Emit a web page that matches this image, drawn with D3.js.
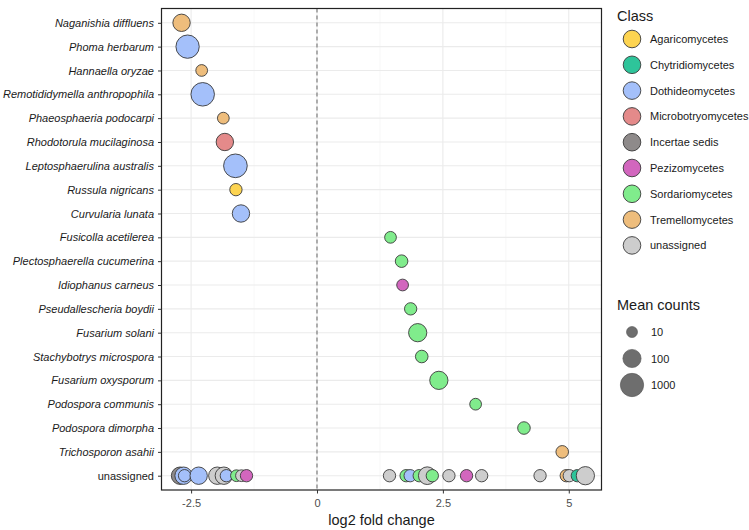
<!DOCTYPE html>
<html><head><meta charset="utf-8">
<script src="https://cdn.jsdelivr.net/npm/d3@7"></script>
<style>body{margin:0;background:#fff;font-family:Arial,"Liberation Sans",sans-serif}</style>
</head><body><svg id="c" width="749" height="530"></svg>
<script>
const rows = ["Naganishia diffluens","Phoma herbarum","Hannaella oryzae","Remotididymella anthropophila","Phaeosphaeria podocarpi","Rhodotorula mucilaginosa","Leptosphaerulina australis","Russula nigricans","Curvularia lunata","Fusicolla acetilerea","Plectosphaerella cucumerina","Idiophanus carneus","Pseudallescheria boydii","Fusarium solani","Stachybotrys microspora","Fusarium oxysporum","Podospora communis","Podospora dimorpha","Trichosporon asahii","unassigned"];
const classes = ["Agaricomycetes","Chytridiomycetes","Dothideomycetes","Microbotryomycetes","Incertae sedis","Pezizomycetes","Sordariomycetes","Tremellomycetes","unassigned"];
const classColors = ["#FDD451","#2EC49A","#A4C0FA","#E48A8A","#8E8A8A","#D266BE","#80EC8C","#EEBD7C","#CDCDCD"];
const xTicks = [-2.5, 0, 2.5, 5];
const sizeBreaks = [10, 100, 1000];

const pointRow = ["Naganishia diffluens","Phoma herbarum","Hannaella oryzae","Remotididymella anthropophila","Phaeosphaeria podocarpi","Rhodotorula mucilaginosa","Leptosphaerulina australis","Russula nigricans","Curvularia lunata","Fusicolla acetilerea","Plectosphaerella cucumerina","Idiophanus carneus","Pseudallescheria boydii","Fusarium solani","Stachybotrys microspora","Fusarium oxysporum","Podospora communis","Podospora dimorpha","Trichosporon asahii",
"unassigned","unassigned","unassigned","unassigned","unassigned","unassigned","unassigned","unassigned","unassigned","unassigned",
"unassigned","unassigned","unassigned","unassigned","unassigned","unassigned","unassigned","unassigned","unassigned","unassigned","unassigned","unassigned","unassigned","unassigned"];
const pointLfc = [-2.69,-2.57,-2.29,-2.27,-1.86,-1.83,-1.62,-1.61,-1.51,1.46,1.68,1.70,1.86,2.00,2.08,2.42,3.15,4.11,4.87,
-2.72,-2.65,-2.63,-2.35,-1.98,-1.85,-1.80,-1.60,-1.50,-1.40,
1.44,1.77,1.85,2.03,2.19,2.29,2.62,2.97,3.27,4.43,4.95,5.01,5.17,5.33];
const pointClass = ["Tremellomycetes","Dothideomycetes","Tremellomycetes","Dothideomycetes","Tremellomycetes","Microbotryomycetes","Dothideomycetes","Agaricomycetes","Dothideomycetes","Sordariomycetes","Sordariomycetes","Pezizomycetes","Sordariomycetes","Sordariomycetes","Sordariomycetes","Sordariomycetes","Sordariomycetes","Sordariomycetes","Tremellomycetes",
"Incertae sedis","Dothideomycetes","Dothideomycetes","Dothideomycetes","unassigned","unassigned","Dothideomycetes","Sordariomycetes","unassigned","Pezizomycetes",
"unassigned","Sordariomycetes","Dothideomycetes","Sordariomycetes","unassigned","Sordariomycetes","unassigned","Pezizomycetes","unassigned","unassigned","Tremellomycetes","unassigned","Chytridiomycetes","unassigned"];
const pointCount = [72,1000,12,1100,12,72,1200,14,72,12,15,12,14,100,15,100,12,15,15,
72,72,14,72,72,72,14,12,12,14,
14,14,14,14,80,14,14,14,14,14,14,14,14,100];

const svg = d3.select("#c");
const L = 161.5, R = 601.5, T = 8.5, B = 490;
const x = d3.scaleLinear().domain([-3.088, 5.65]).range([L, R]);
const y = d3.scalePoint().domain(rows).range([T, B]).padding(0.6);
const color = d3.scaleOrdinal().domain(classes).range(classColors);
const area = d3.scaleLinear().domain([1, 3]).range([30.25, 136]);
const rad = v => Math.sqrt(area(Math.log10(v)));

// grid
const g = svg.append("g");
const minor = [-1.25, 1.25, 3.75];
g.selectAll(".mn").data(minor).enter().append("line")
 .attr("x1", d=>x(d)).attr("x2", d=>x(d)).attr("y1", T).attr("y2", B)
 .attr("stroke", "#f2f2f2").attr("stroke-width", 0.6);
g.selectAll(".mj").data(xTicks).enter().append("line")
 .attr("x1", d=>x(d)).attr("x2", d=>x(d)).attr("y1", T).attr("y2", B)
 .attr("stroke", "#ebebeb").attr("stroke-width", 1.1);
g.selectAll(".hr").data(rows).enter().append("line")
 .attr("x1", L).attr("x2", R).attr("y1", d=>y(d)).attr("y2", d=>y(d))
 .attr("stroke", "#ebebeb").attr("stroke-width", 1.1);
// zero line
svg.append("line").attr("x1", x(0)).attr("x2", x(0)).attr("y1", T).attr("y2", B)
 .attr("stroke", "#666").attr("stroke-width", 1).attr("stroke-dasharray", "4,3");

// points
const pts = pointLfc.map((v,i)=>({lfc:v, row:pointRow[i], cls:pointClass[i], n:pointCount[i]}));
svg.append("g").selectAll("circle").data(pts).enter().append("circle")
 .attr("cx", d=>x(d.lfc)).attr("cy", d=>y(d.row)).attr("r", d=>rad(d.n))
 .attr("fill", d=>color(d.cls)).attr("stroke", "#3a3a3a").attr("stroke-width", 0.9);

// panel border
svg.append("rect").attr("x", L).attr("y", T).attr("width", R-L).attr("height", B-T)
 .attr("fill", "none").attr("stroke", "#222").attr("stroke-width", 1.2);

// axes
const xa = svg.append("g").attr("transform", `translate(0,${B})`)
 .call(d3.axisBottom(x).tickValues(xTicks).tickSize(3.5).tickPadding(6).tickFormat(d=>d===0?"0":String(d)));
xa.select(".domain").remove();
xa.selectAll("line").attr("stroke","#333");
xa.selectAll("text").attr("fill","#4d4d4d").attr("font-size", 11).attr("font-family","Arial,'Liberation Sans',sans-serif");
const ya = svg.append("g").attr("transform", `translate(${L},0)`)
 .call(d3.axisLeft(y).tickSize(3.5).tickPadding(4));
ya.select(".domain").remove();
ya.selectAll("line").attr("stroke","#333");
ya.selectAll("text").attr("fill","#1a1a1a").attr("font-size", 11)
 .attr("font-style", d=>d==="unassigned"?"normal":"italic").attr("font-family","Arial,'Liberation Sans',sans-serif");

svg.append("text").attr("x", (L+R)/2).attr("y", 525).attr("text-anchor","middle")
 .attr("font-size", 14.5).attr("fill","#1a1a1a").text("log2 fold change");

// class legend
const lg = svg.append("g");
lg.append("text").attr("x", 617).attr("y", 21).attr("font-size", 14.5).attr("fill","#1a1a1a").text("Class");
const ly = (i)=>39 + i*25.8;
lg.selectAll(".kc").data(classes).enter().append("circle")
 .attr("cx", 632).attr("cy", (d,i)=>ly(i)).attr("r", 8.8)
 .attr("fill", d=>color(d)).attr("stroke","#3a3a3a").attr("stroke-width",0.9);
lg.selectAll(".kt").data(classes).enter().append("text")
 .attr("x", 650).attr("y", (d,i)=>ly(i)+4).attr("font-size", 11).attr("fill","#1a1a1a").text(d=>d);

// size legend
svg.append("text").attr("x", 617).attr("y", 310).attr("font-size", 14.5).attr("fill","#1a1a1a").text("Mean counts");
const sy = [332, 358.5, 385];
svg.selectAll(".sc").data(sizeBreaks).enter().append("circle")
 .attr("cx", 632).attr("cy", (d,i)=>sy[i]).attr("r", d=>rad(d))
 .attr("fill", "#6e6e6e").attr("stroke","#555").attr("stroke-width",0.6);
svg.selectAll(".st").data(sizeBreaks).enter().append("text")
 .attr("x", 651).attr("y", (d,i)=>sy[i]+4).attr("font-size", 11).attr("fill","#1a1a1a").text(d=>d);
</script></body></html>
